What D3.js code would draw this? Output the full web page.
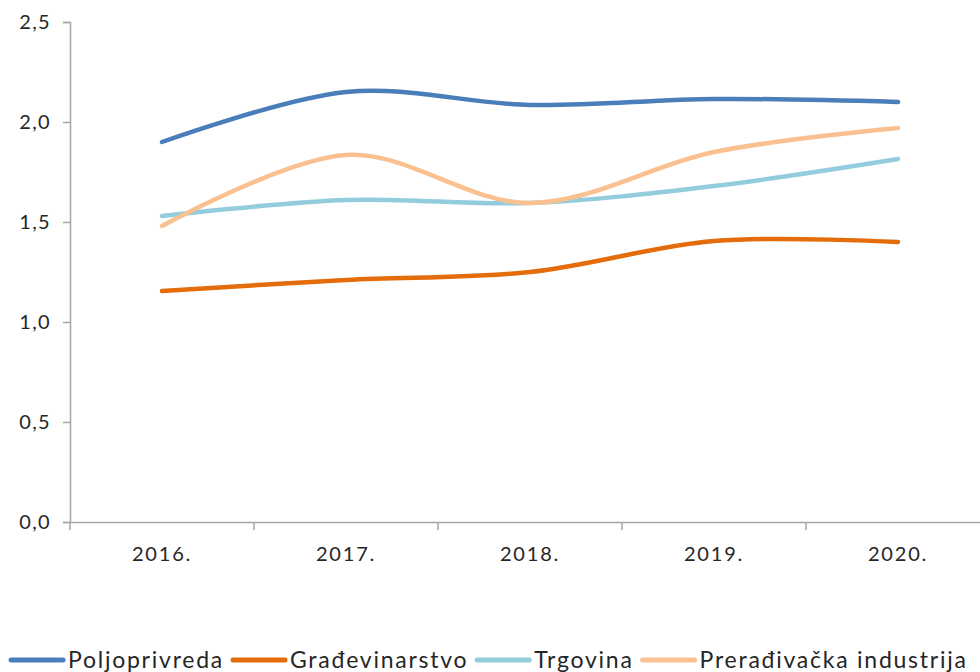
<!DOCTYPE html>
<html><head><meta charset="utf-8">
<script src="https://cdn.jsdelivr.net/npm/d3@7"></script>
<style>body{margin:0;background:#fff;}svg{display:block;font-family:"Lato","Open Sans",sans-serif;}</style>
</head><body>
<svg id="c" width="980" height="672"></svg>
<script>
const years = ["2016.", "2017.", "2018.", "2019.", "2020."];
const seriesNames = ["Poljoprivreda", "Građevinarstvo", "Trgovina", "Prerađivačka industrija"];
const poljoprivreda = [1.90, 2.15, 2.085, 2.115, 2.10];
const gradjevinarstvo = [1.155, 1.21, 1.25, 1.405, 1.40];
const trgovina = [1.53, 1.61, 1.595, 1.68, 1.815];
const preradjivacka = [1.48, 1.835, 1.595, 1.85, 1.97];
const yTicks = [0, 0.5, 1.0, 1.5, 2.0, 2.5];
const colors = ["#4a7ebb", "#e46c0a", "#93cddd", "#fac08f"];

const seriesValues = [poljoprivreda, gradjevinarstvo, trgovina, preradjivacka];
const svg = d3.select("#c");
const x = d3.scaleBand().domain(years).range([70, 990]);
const y = d3.scaleLinear().domain([0, 2.5]).range([522, 22]);
const axisColor = "#a6a6a6";

// y axis
const ya = svg.append("g").attr("transform", "translate(70,0)")
  .call(d3.axisLeft(y).tickValues(yTicks).tickSize(7).tickPadding(12)
    .tickFormat(d => d3.format(".1f")(d).replace(".", ",")));
ya.select(".domain").attr("stroke", axisColor).attr("stroke-width", 1.5);
ya.selectAll(".tick line").attr("stroke", axisColor).attr("stroke-width", 1.5);
ya.selectAll(".tick text").attr("fill", "#262626").style("font-size", "20px")
  .style("letter-spacing", "1.3px")
  .style("font-family", "Lato, 'Open Sans', sans-serif");

// x axis
const xa = svg.append("g").attr("transform", "translate(0,522)")
  .call(d3.axisBottom(x).tickSize(0).tickPadding(25));
xa.select(".domain").attr("stroke", axisColor).attr("stroke-width", 1.5);
xa.selectAll(".tick text").attr("fill", "#262626").style("font-size", "20px")
  .style("letter-spacing", "1.8px")
  .style("font-family", "Lato, 'Open Sans', sans-serif");
// category boundary ticks
const bounds = years.map(d => x(d)).concat([x.range()[1]]);
svg.append("g").selectAll("line").data(bounds).join("line")
  .attr("x1", d => d).attr("x2", d => d).attr("y1", 522).attr("y2", 530)
  .attr("stroke", axisColor).attr("stroke-width", 1.5);

// lines
const line = d3.line()
  .x((d, i) => x(years[i]) + x.bandwidth() / 2)
  .y(d => y(d))
  .curve(d3.curveCatmullRom.alpha(0));
svg.append("g").selectAll("path").data(seriesValues).join("path")
  .attr("d", d => line(d)).attr("fill", "none")
  .attr("stroke", (d, i) => colors[i]).attr("stroke-width", 4.5)
  .attr("stroke-linecap", "round");

// legend
const leg = svg.append("g").attr("transform", "translate(0,660)");
let lx = 11;
seriesNames.forEach((name, i) => {
  leg.append("line").attr("x1", lx).attr("x2", lx + 52).attr("y1", 0).attr("y2", 0)
    .attr("stroke", colors[i]).attr("stroke-width", 5).attr("stroke-linecap", "round");
  const t = leg.append("text").attr("x", lx + 57).attr("y", 8).text(name)
    .attr("fill", "#262626").style("font-size", "23px").style("letter-spacing", "1.75px");
  lx += 57 + t.node().getComputedTextLength() + 9;
});
</script>
</body></html>
